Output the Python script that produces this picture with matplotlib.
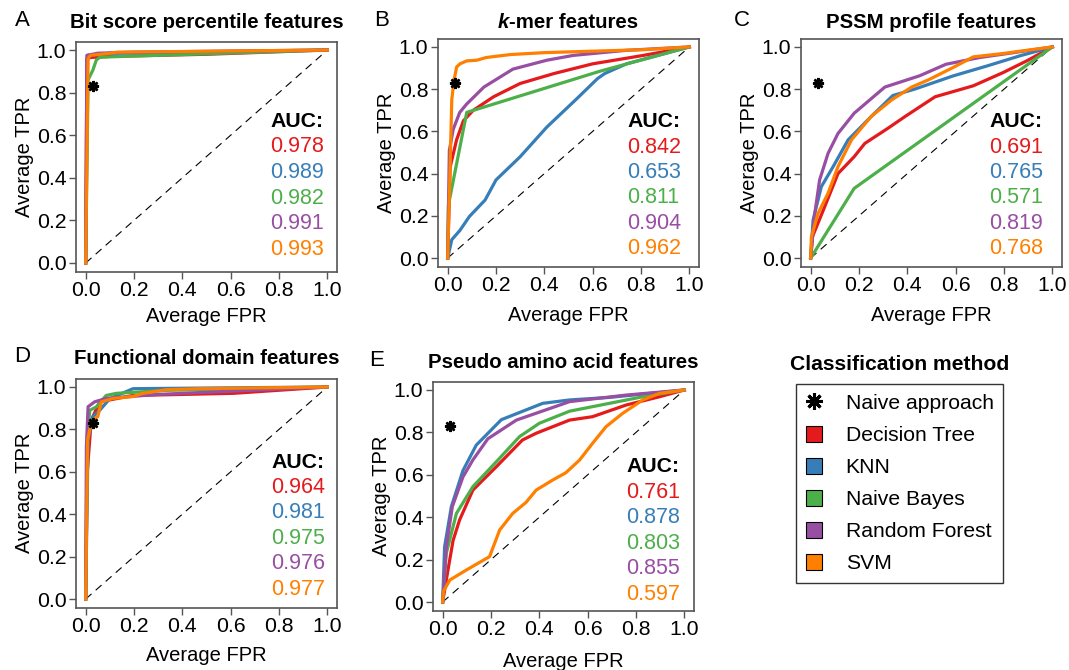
import numpy as np
import matplotlib
matplotlib.use('Agg')
import matplotlib.pyplot as plt
from matplotlib.lines import Line2D
from matplotlib.patches import Patch

plt.rcParams['font.family'] = ['Liberation Sans', 'DejaVu Sans']

# ---- data ----
methods = ['Decision Tree', 'KNN', 'Naive Bayes', 'Random Forest', 'SVM']
colors = ['#E41A1C', '#377EB8', '#4DAF4A', '#984EA3', '#FF7F00']
naive_fpr = 0.03
naive_tpr = 0.83

# A: bit score percentile
bit_dt = ([0, 0.005, 0.02, 0.1, 0.5, 1], [0, 0.96, 0.965, 0.97, 0.98, 1])
bit_knn = ([0, 0.008, 0.1, 1], [0, 0.975, 0.985, 1])
bit_nb = ([0, 0.01, 0.03, 0.044, 0.058, 0.127, 1], [0, 0.86, 0.906, 0.953, 0.966, 0.969, 1])
bit_rf = ([0, 0.005, 0.05, 0.2, 1], [0, 0.975, 0.985, 0.99, 1])
bit_svm = ([0, 0.01, 0.02, 0.1, 0.13, 1], [0, 0.96, 0.975, 0.985, 0.99, 1])
bit_auc = ['0.978', '0.989', '0.982', '0.991', '0.993']

# B: k-mer
kmer_dt = ([0, 0.01, 0.037, 0.065, 0.106, 0.19, 0.30, 0.44, 0.60, 0.81, 1],
           [0, 0.43, 0.56, 0.65, 0.70, 0.764, 0.827, 0.874, 0.92, 0.96, 1])
kmer_knn = ([0, 0.017, 0.05, 0.09, 0.155, 0.20, 0.30, 0.41, 0.53, 0.62, 0.65, 0.74, 1],
            [0, 0.087, 0.13, 0.197, 0.275, 0.37, 0.48, 0.62, 0.75, 0.85, 0.874, 0.92, 1])
kmer_nb = ([0, 0.003, 0.079, 0.63, 1], [0, 0.25, 0.69, 0.885, 1])
kmer_rf = ([0, 0.007, 0.023, 0.05, 0.079, 0.15, 0.27, 0.41, 0.52, 0.74, 1],
           [0, 0.51, 0.61, 0.69, 0.73, 0.81, 0.895, 0.937, 0.96, 0.984, 1])
kmer_svm = ([0, 0.01, 0.017, 0.026, 0.037, 0.051, 0.079, 0.12, 0.16, 0.26, 0.40, 0.60, 0.81, 1],
            [0, 0.43, 0.75, 0.84, 0.905, 0.92, 0.934, 0.937, 0.95, 0.964, 0.973, 0.98, 0.987, 1])
kmer_auc = ['0.842', '0.653', '0.811', '0.904', '0.962']

# C: PSSM profile
pssm_dt = ([0, 0.007, 0.058, 0.113, 0.18, 0.224, 0.32, 0.39, 0.515, 0.673, 0.797, 0.894, 1],
           [0, 0.10, 0.243, 0.40, 0.48, 0.543, 0.615, 0.67, 0.764, 0.816, 0.879, 0.934, 1])
pssm_knn = ([0, 0.01, 0.044, 0.093, 0.155, 0.25, 0.34, 0.43, 0.59, 0.73, 0.866, 1],
            [0, 0.18, 0.338, 0.433, 0.56, 0.67, 0.77, 0.80, 0.863, 0.91, 0.958, 1])
pssm_nb = ([0, 0.18, 1], [0, 0.33, 1])
pssm_rf = ([0, 0.017, 0.037, 0.072, 0.113, 0.18, 0.307, 0.45, 0.56, 0.70, 0.84, 1],
           [0, 0.21, 0.37, 0.496, 0.59, 0.686, 0.81, 0.863, 0.918, 0.95, 0.973, 1])
pssm_svm = ([0, 0.003, 0.03, 0.072, 0.113, 0.169, 0.25, 0.335, 0.418, 0.487, 0.59, 0.673, 0.797, 0.894, 1],
            [0, 0.10, 0.21, 0.307, 0.433, 0.56, 0.67, 0.749, 0.81, 0.844, 0.903, 0.953, 0.969, 0.984, 1])
pssm_auc = ['0.691', '0.765', '0.571', '0.819', '0.768']

# D: functional domain
dom_dt = ([0, 0.006, 0.023, 0.058, 0.196, 0.61, 1], [0, 0.59, 0.843, 0.93, 0.96, 0.97, 1])
dom_knn = ([0, 0.01, 0.03, 0.058, 0.1, 0.196, 1], [0, 0.75, 0.86, 0.89, 0.945, 0.992, 1])
dom_nb = ([0, 0.006, 0.017, 0.044, 0.085, 0.127, 0.33, 1], [0, 0.75, 0.89, 0.906, 0.96, 0.97, 0.984, 1])
dom_rf = ([0, 0.003, 0.01, 0.037, 0.085, 0.3, 0.6, 1], [0, 0.72, 0.907, 0.93, 0.946, 0.965, 0.98, 1])
dom_svm = ([0, 0.008, 0.017, 0.03, 0.05, 0.065, 0.113, 0.195, 0.237, 0.333, 0.47, 1],
           [0, 0.75, 0.80, 0.845, 0.86, 0.93, 0.946, 0.955, 0.97, 0.987, 0.992, 1])
dom_auc = ['0.964', '0.981', '0.975', '0.976', '0.977']

# E: pseudo amino acid
paa_dt = ([0, 0.015, 0.043, 0.07, 0.125, 0.222, 0.33, 0.387, 0.525, 0.62, 0.759, 0.897, 1],
          [0, 0.104, 0.29, 0.387, 0.528, 0.638, 0.764, 0.796, 0.858, 0.874, 0.929, 0.968, 1])
paa_knn = ([0, 0.008, 0.036, 0.084, 0.139, 0.243, 0.414, 0.525, 0.69, 1],
           [0, 0.26, 0.45, 0.62, 0.74, 0.86, 0.937, 0.953, 0.965, 1])
paa_nb = ([0, 0.015, 0.057, 0.125, 0.229, 0.318, 0.40, 0.525, 0.69, 0.828, 1],
          [0, 0.23, 0.418, 0.544, 0.67, 0.78, 0.843, 0.90, 0.937, 0.968, 1])
paa_rf = ([0, 0.015, 0.04, 0.084, 0.125, 0.187, 0.305, 0.525, 0.759, 1],
          [0, 0.26, 0.45, 0.59, 0.67, 0.77, 0.858, 0.945, 0.976, 1])
paa_svm = ([0, 0.003, 0.03, 0.098, 0.194, 0.236, 0.29, 0.345, 0.387, 0.455, 0.51, 0.566, 0.62, 0.676, 0.745, 0.828, 0.897, 1],
           [0, 0.05, 0.104, 0.151, 0.214, 0.34, 0.418, 0.47, 0.528, 0.575, 0.61, 0.669, 0.748, 0.827, 0.89, 0.953, 0.984, 1])
paa_auc = ['0.761', '0.878', '0.803', '0.855', '0.597']

panels = [
    ('A', 'Bit score percentile features', [bit_dt, bit_knn, bit_nb, bit_rf, bit_svm], bit_auc),
    ('B', '-mer features', [kmer_dt, kmer_knn, kmer_nb, kmer_rf, kmer_svm], kmer_auc),
    ('C', 'PSSM profile features', [pssm_dt, pssm_knn, pssm_nb, pssm_rf, pssm_svm], pssm_auc),
    ('D', 'Functional domain features', [dom_dt, dom_knn, dom_nb, dom_rf, dom_svm], dom_auc),
    ('E', 'Pseudo amino acid features', [paa_dt, paa_knn, paa_nb, paa_rf, paa_svm], paa_auc),
]

# ---- layout (pixels: left, top, width, height) ----
W, H = 1069, 670
rects_px = [(76, 41.5, 261, 230), (438, 38.5, 261, 228), (801, 38.5, 261, 228),
            (76, 378.5, 261, 229), (433, 381.5, 261, 229)]
auc_pos = [(0.765, 0.665), (0.742, 0.645), (0.738, 0.645), (0.768, 0.646), (0.759, 0.637)]
letter_px = [(22, 20), (382, 20), (742, 20), (22, 357), (377, 360)]
xlabel_pad = [5, 8, 8, 7, 9]

fig = plt.figure(figsize=(W / 100, H / 100), dpi=100)
grey = '#555555'

for i, (letter, title, curves, aucs) in enumerate(panels):
    l, t, w, h = rects_px[i]
    ax = fig.add_axes([l / W, 1 - (t + h) / H, w / W, h / H])
    ax.plot([0, 1], [0, 1], color='black', lw=0.8, ls=(0, (7, 5)))
    for (fx, ty), c in zip(curves, colors):
        ax.plot(fx, ty, color=c, lw=2.3)
    ax.plot(naive_fpr, naive_tpr, marker=(8, 2, 0), color='black', ms=8, mew=1.8)
    ax.set_xlim(-0.04, 1.04)
    ax.set_ylim(-0.04, 1.04)
    ticks = [0, 0.2, 0.4, 0.6, 0.8, 1.0]
    ax.set_xticks(ticks)
    ax.set_yticks(ticks)
    ax.set_xticklabels(['%.1f' % v for v in ticks])
    ax.set_yticklabels(['%.1f' % v for v in ticks])
    ax.tick_params(length=5, width=1, color=grey, labelsize=15.3, pad=2)
    for s in ax.spines.values():
        s.set_color(grey)
        s.set_linewidth(1.2)
    ax.set_xlabel('Average FPR', fontsize=14.5, labelpad=xlabel_pad[i])
    ax.set_ylabel('Average TPR', fontsize=14.5, labelpad=2)

    ax_x, ax_y = auc_pos[i]
    ax.text(ax_x, ax_y, 'AUC:', fontsize=15.3, fontweight='bold', va='center')
    for j, (a, c) in enumerate(zip(aucs, colors)):
        ax.text(ax_x, ax_y - 0.12 * (j + 1), a, fontsize=15.5, color=c, va='center')

    title_y = 1 - (letter_px[i][1] + 2 - t) / h
    if letter == 'B':
        t2 = ax.text(0.52, title_y, title, transform=ax.transAxes, ha='center', va='center',
                     fontsize=14.7, fontweight='bold')
        ax.annotate('k', xy=(0, 0), xycoords=t2, ha='right', va='bottom',
                    fontsize=14.7, fontweight='bold', style='italic')
    else:
        ax.text(0.5, title_y, title, transform=ax.transAxes, ha='center', va='center',
                fontsize=14.7, fontweight='bold')
    fig.text(letter_px[i][0] / W, 1 - letter_px[i][1] / H, letter, fontsize=16,
             ha='center', va='center')

# legend
handles = [Line2D([], [], marker=(8, 2, 0), color='black', ls='none', ms=12, mew=2.2)]
handles += [Patch(facecolor=c, edgecolor='black', lw=0.8) for c in colors]
labels = ['Naive approach'] + methods
leg = fig.legend(handles, labels, loc='upper left',
                 bbox_to_anchor=(796 / W, 1 - 384 / H), frameon=True, fancybox=False,
                 edgecolor='black', fontsize=15.2, handlelength=0.8, handleheight=0.8,
                 handletextpad=1.1, labelspacing=0.6, borderpad=0.45, borderaxespad=0)
leg.get_frame().set_linewidth(1.0)
fig.text(900 / W, 1 - 365 / H, 'Classification method', fontsize=15.2,
         fontweight='bold', ha='center', va='center')

fig.savefig('out.png', dpi=100)
